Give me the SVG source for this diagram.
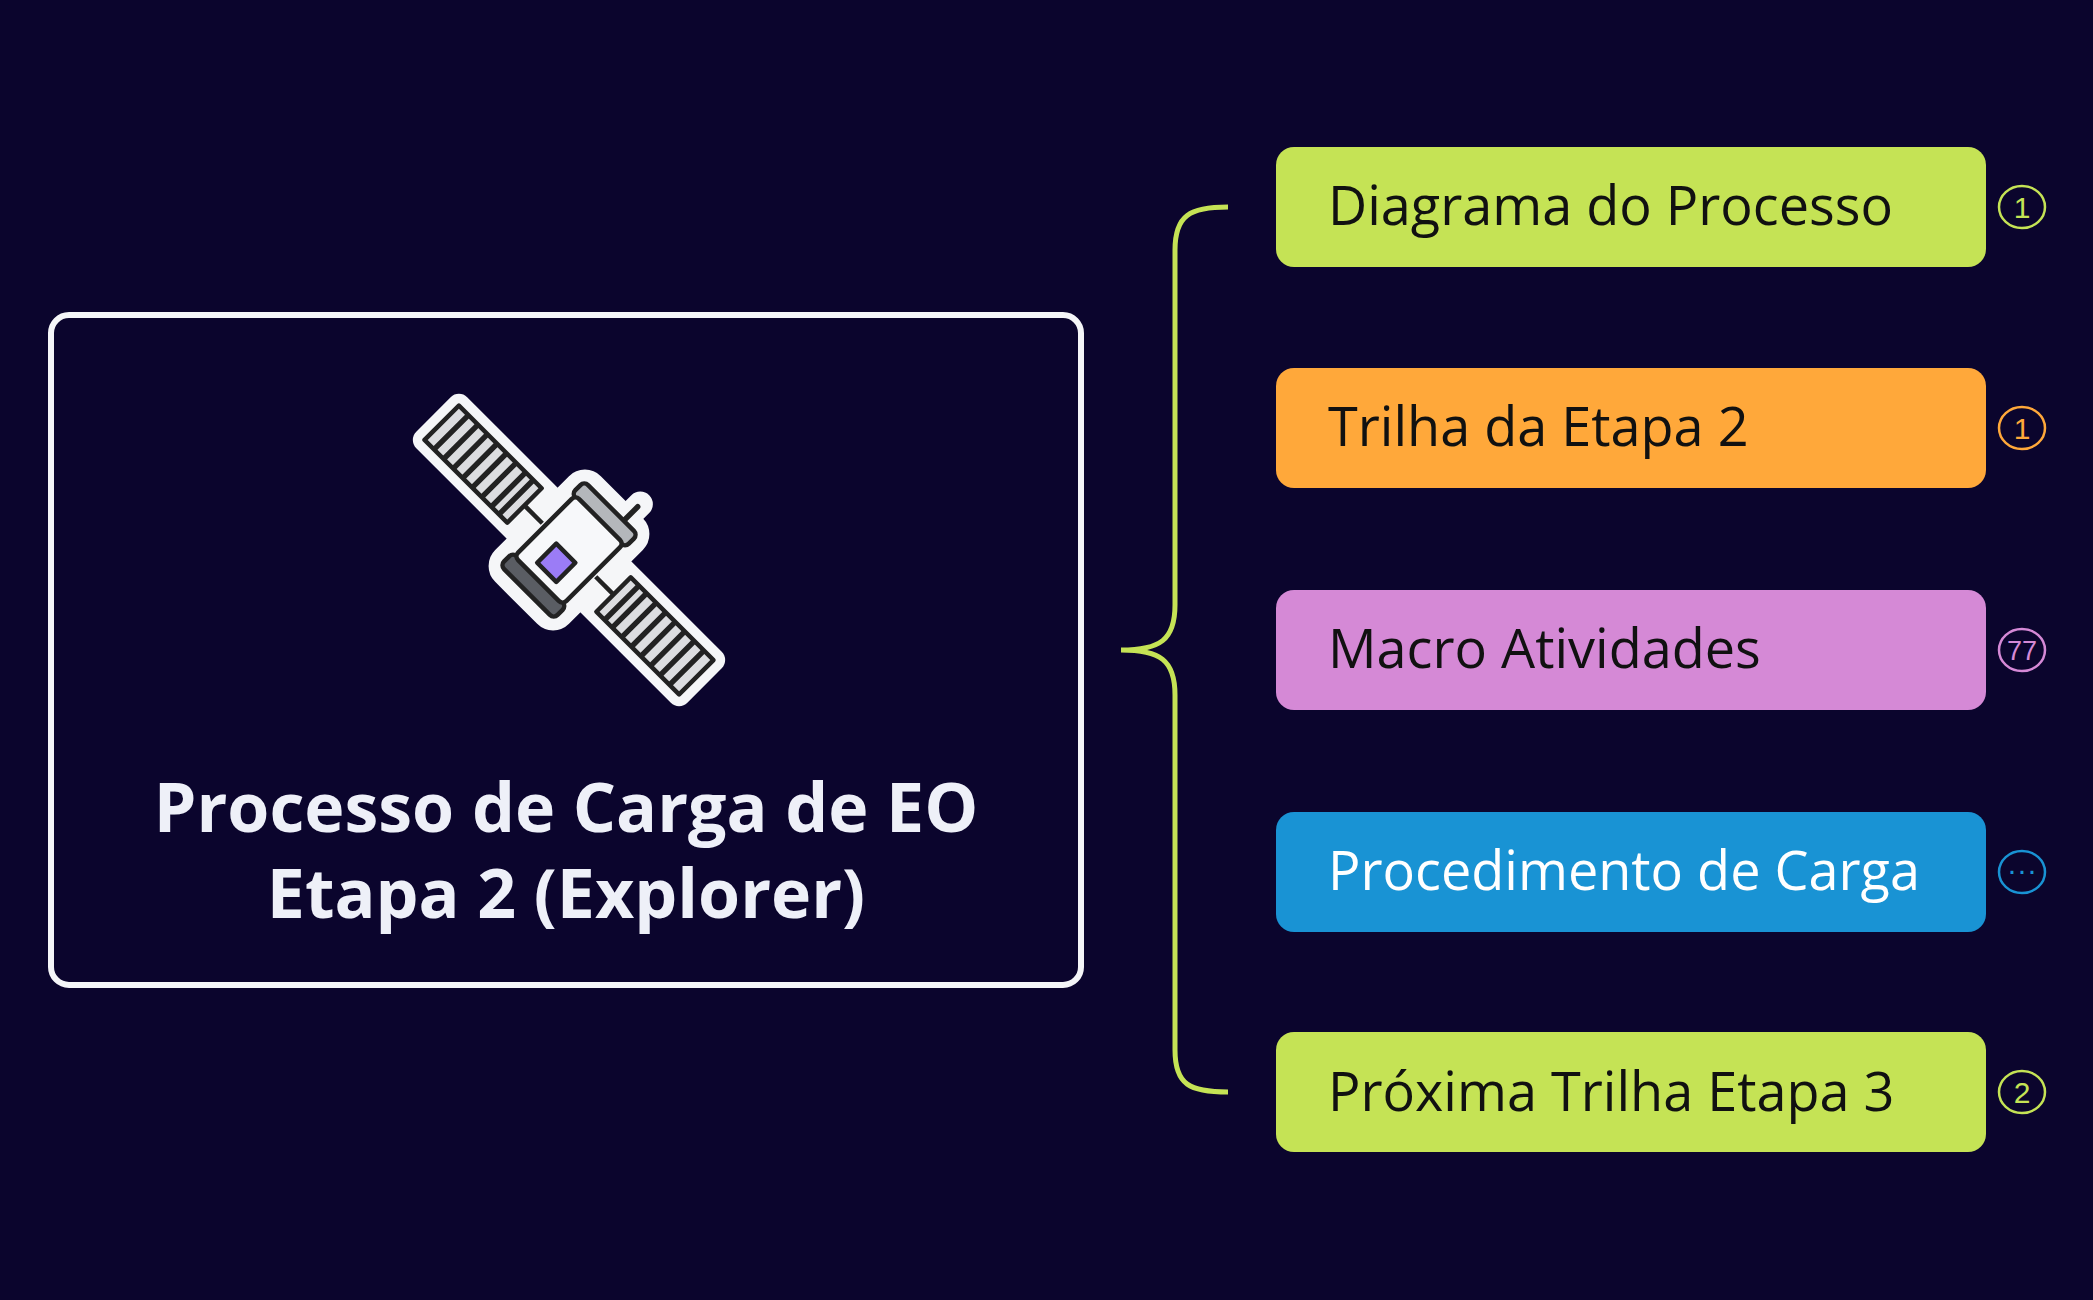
<svg xmlns="http://www.w3.org/2000/svg" width="2093" height="1300" viewBox="0 0 2093 1300">
<style>
.node .lbl{font-family:"Open Sans","Liberation Sans",sans-serif;font-size:54px;fill:#111}
.badge{fill:none;stroke-width:2.5}
.node .bt{font-family:"Liberation Sans",sans-serif;font-size:30px;text-anchor:middle}
.d{stroke:#222;stroke-width:5;stroke-linejoin:round}
.o{fill:#f5f6f8;stroke:#f5f6f8;stroke-width:26;stroke-linejoin:round}
</style>
<rect width="2093" height="1300" fill="#0b052d"/>
<g id="connectors">
<path d="M1228,207 C1190,207 1175,215 1175,250 L1175,605 C1175,640 1160,650 1121,650 C1160,650 1175,660 1175,695 L1175,1050 C1175,1085 1190,1092 1228,1092" fill="none" stroke="#c5e355" stroke-width="5"/>
</g>
<g id="center">
<rect x="51" y="315" width="1030" height="670" rx="18" fill="none" stroke="#f5f6f8" stroke-width="6"/>
<g transform="translate(569,550) rotate(45) scale(0.9)">
<rect class="o" x="-200" y="-27" width="400" height="54"/>
<rect class="o" x="-45" y="-70" width="90" height="140" rx="12"/>
<line x1="20" y1="-70" x2="20" y2="-92" stroke="#f5f6f8" stroke-width="28" stroke-linecap="round"/>
<rect class="d" x="-200" y="-27" width="130" height="54" fill="#dcdde0"/>
<rect class="d" x="70" y="-27" width="130" height="54" fill="#dcdde0"/>
<path stroke="#222" stroke-width="6" d="M-185,-27V27M-170,-27V27M-155,-27V27M-140,-27V27M-125,-27V27M-110,-27V27M-95,-27V27M-83,-27V27M83,-27V27M95,-27V27M110,-27V27M125,-27V27M140,-27V27M155,-27V27M170,-27V27M185,-27V27"/>
<line x1="-70" y1="0" x2="-42" y2="0" stroke="#222" stroke-width="5"/>
<line x1="70" y1="0" x2="42" y2="0" stroke="#222" stroke-width="5"/>
<line x1="20" y1="-62" x2="20" y2="-88" stroke="#222" stroke-width="6" stroke-linecap="round"/>
<rect class="d" x="-42" y="-66" width="84" height="20" rx="6" fill="#b4b7bb"/>
<rect class="d" x="-42" y="46" width="84" height="20" rx="6" fill="#5a5d63"/>
<rect class="d" x="-38" y="-48" width="76" height="96" rx="6" fill="#f7f8fa"/>
<rect class="d" x="-15" y="5" width="30" height="30" fill="#9b7cf6"/>
</g>
<text x="566" y="832" text-anchor="middle" font-family="'Open Sans','Liberation Sans',sans-serif" font-weight="bold" font-size="68" fill="#eef0f8">Processo de Carga de EO</text>
<text x="566" y="918" text-anchor="middle" font-family="'Open Sans','Liberation Sans',sans-serif" font-weight="bold" font-size="68" fill="#eef0f8">Etapa 2 (Explorer)</text>
</g>
<g id="n1" class="node"><rect x="1276" y="147" width="710" height="120" rx="18" fill="#c5e355"/><text class="lbl" x="1328" y="225">Diagrama do Processo</text><ellipse class="badge" cx="2022" cy="207" rx="23" ry="21" stroke="#c5e355"/><text class="bt" x="2022" y="218" fill="#c5e355">1</text></g>
<g id="n2" class="node"><rect x="1276" y="368" width="710" height="120" rx="18" fill="#ffa83a"/><text class="lbl" x="1328" y="446">Trilha da Etapa 2</text><ellipse class="badge" cx="2022" cy="428" rx="23" ry="21" stroke="#ffa83a"/><text class="bt" x="2022" y="439" fill="#ffa83a">1</text></g>
<g id="n3" class="node"><rect x="1276" y="590" width="710" height="120" rx="18" fill="#d589d6"/><text class="lbl" x="1328" y="668">Macro Atividades</text><ellipse class="badge" cx="2022" cy="650" rx="23" ry="21" stroke="#d589d6"/><text class="bt" x="2022" y="660" fill="#d589d6" style="font-size:27px">77</text></g>
<g id="n4" class="node"><rect x="1276" y="812" width="710" height="120" rx="18" fill="#1993d4"/><text class="lbl" x="1328" y="890" style="fill:#fff">Procedimento de Carga</text><ellipse class="badge" cx="2022" cy="872" rx="23" ry="21" stroke="#1993d4"/><text class="bt" x="2022" y="880" fill="#1993d4">···</text></g>
<g id="n5" class="node"><rect x="1276" y="1032" width="710" height="120" rx="18" fill="#c5e355"/><text class="lbl" x="1328" y="1111">Próxima Trilha Etapa 3</text><ellipse class="badge" cx="2022" cy="1092" rx="23" ry="21" stroke="#c5e355"/><text class="bt" x="2022" y="1103" fill="#c5e355">2</text></g>
</svg>
